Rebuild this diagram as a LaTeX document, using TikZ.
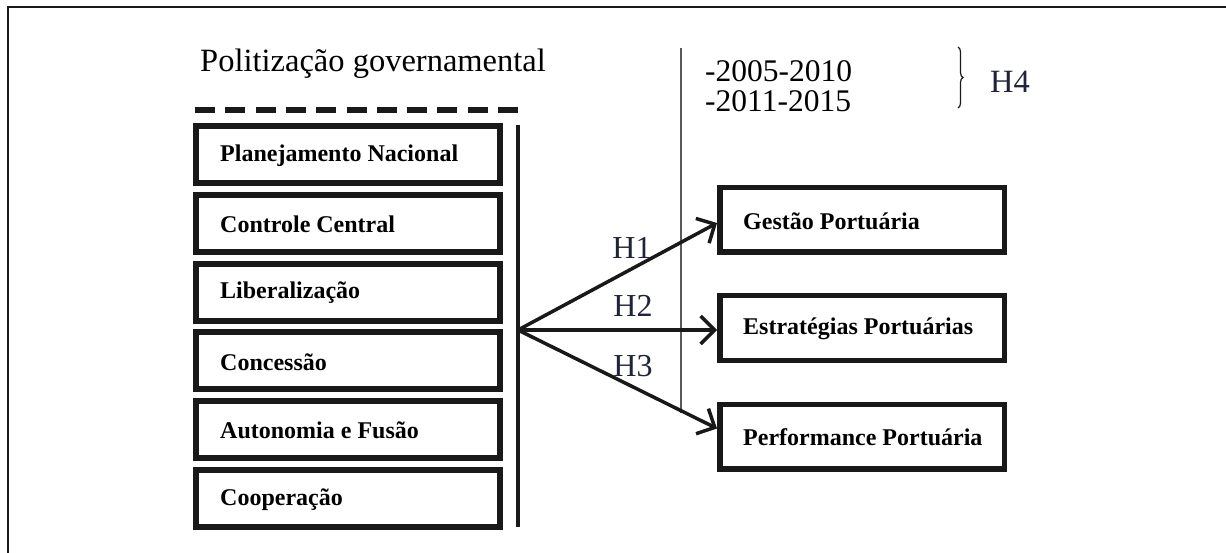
\documentclass[tikz,border=0pt]{standalone}
\usepackage{fontspec}
\setmainfont{Liberation Serif}
\usetikzlibrary{arrows.meta,decorations.pathreplacing}
\definecolor{ink}{RGB}{25,25,25}
\definecolor{hlab}{RGB}{32,36,56}
\definecolor{rule}{RGB}{90,90,90}
\begin{document}
\begin{tikzpicture}[x=1pt,y=-1pt,
  leftbox/.style={draw=ink,line width=6pt,minimum width=304pt,minimum height=57pt,inner sep=0pt},
  rightbox/.style={draw=ink,line width=5.5pt,minimum width=284.5pt,minimum height=64.5pt,inner sep=0pt},
  boxtext/.style={font=\fontsize{24}{28}\selectfont\bfseries,inner sep=0pt,anchor=west},
  big/.style={font=\fontsize{32.5}{38}\selectfont,inner sep=0pt,anchor=base west},
  years/.style={font=\fontsize{31.5}{36}\selectfont,inner sep=0pt,anchor=base west},
  hyp/.style={font=\fontsize{32}{38}\selectfont,inner sep=0pt,text=hlab},
  link/.style={draw=ink,line width=3.5pt,-{Straight Barb[length=14pt,width=28pt]}}
]
\useasboundingbox (0,0) rectangle (1226,553);
\fill[white] (0,0) rectangle (1226,553);

% outer frame (top and left edges)
\draw[line width=2pt,ink] (1226,7) -- (8,7) -- (8,553);

% title and dashed rule
\node[big] (title) at (200,72) {Politização governamental};
\draw[ink,line width=5.5pt,dash pattern=on 20pt off 10.3pt] (195,110) -- (518,110);

% left column of dimensions
\node[leftbox] (b1) at (348,154.5) {};
\node[leftbox] (b2) at (348,223.3) {};
\node[leftbox] (b3) at (348,292.1) {};
\node[leftbox] (b4) at (348,360.9) {};
\node[leftbox] (b5) at (348,429.7) {};
\node[leftbox] (b6) at (348,498.5) {};
\node[boxtext] (t1) at ([xshift=27pt,yshift=-1pt]b1.west) {Planejamento Nacional};
\node[boxtext] (t2) at ([xshift=27pt,yshift=-1pt]b2.west) {Controle Central};
\node[boxtext] (t3) at ([xshift=27pt,yshift=-1pt]b3.west) {Liberalização};
\node[boxtext] (t4) at ([xshift=27pt,yshift=-1pt]b4.west) {Concessão};
\node[boxtext] (t5) at ([xshift=27pt,yshift=-1pt]b5.west) {Autonomia e Fusão};
\node[boxtext] (t6) at ([xshift=27pt,yshift=-1pt]b6.west) {Cooperação};

% grouping bar and hub
\coordinate (bartop) at (518,125);
\coordinate (barbot) at (518,527);
\coordinate (hub) at (518,330);
\draw[ink,line width=3.2pt] (bartop) -- (barbot);

% period separator
\coordinate (septop) at (681,48);
\coordinate (sepbot) at (681,413);
\draw[rule,line width=1.3pt] (septop) -- (sepbot);

% periods and H4
\node[years] (p1) at (705,82) {-2005-2010};
\node[years] (p2) at (705,112) {-2011-2015};
\coordinate (brtop) at (958,47);
\coordinate (brbot) at (958,108);
\draw[ink,line width=1.2pt,decorate,decoration={brace,amplitude=5pt}] (brtop) -- (brbot);
\node[big,text=hlab] (h4) at (990,93) {H4};

% outcome boxes
\node[rightbox] (r1) at (862,220) {};
\node[rightbox] (r2) at (862,328) {};
\node[rightbox] (r3) at (862,436.5) {};
\node[boxtext] (s1) at ([xshift=26pt,yshift=-1pt]r1.west) {Gestão Portuária};
\node[boxtext] (s2) at ([xshift=26pt,yshift=-1pt]r2.west) {Estratégias Portuárias};
\node[boxtext] (s3) at ([xshift=26pt,yshift=-1pt]r3.west) {Performance Portuária};

% hypotheses
\draw[link] (hub) -- ([yshift=-3pt]r1.west);
\draw[link] (hub) -- ([yshift=-2pt]r2.west);
\draw[link] (hub) -- ([yshift=8pt]r3.west);
\node[hyp] (h1) at (632,248) {H1};
\node[hyp] (h2) at (633,306) {H2};
\node[hyp] (h3) at (633,366) {H3};
\end{tikzpicture}
\end{document}
